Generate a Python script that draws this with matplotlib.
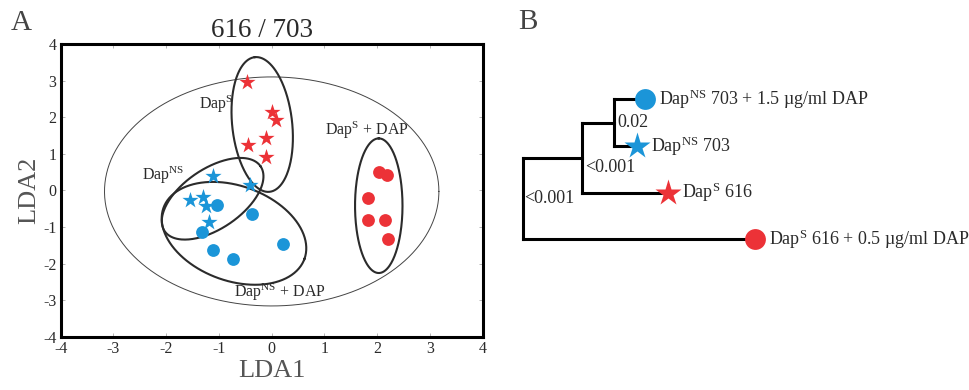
import numpy as np
import matplotlib.pyplot as plt

plt.rcParams['font.family'] = ['Liberation Serif', 'DejaVu Serif']
plt.rcParams['mathtext.fontset'] = 'custom'
plt.rcParams['mathtext.rm'] = 'Liberation Serif'
plt.rcParams['mathtext.it'] = 'Liberation Serif:italic'
plt.rcParams['axes.unicode_minus'] = False

red = '#EC3237'
blue = '#1B95D8'
txt = '#2a2a2a'

# LDA scores
s_star_x = [-0.47, 0.00, 0.08, -0.11, -0.44, -0.11]
s_star_y = [2.95, 2.15, 1.91, 1.43, 1.24, 0.92]
ns_star_x = [-1.11, -0.42, -1.54, -1.30, -1.25, -1.19]
ns_star_y = [0.40, 0.15, -0.26, -0.17, -0.44, -0.87]
ns_dap_x = [-1.03, -0.38, -1.32, -1.11, -0.73, 0.22]
ns_dap_y = [-0.41, -0.65, -1.15, -1.63, -1.88, -1.47]
s_dap_x = [2.04, 2.19, 1.83, 1.83, 2.15, 2.20]
s_dap_y = [0.49, 0.41, -0.22, -0.82, -0.81, -1.33]

# confidence ellipses: centre, semi-axis vector 1, semi-axis vector 2 (data units)
ell_all = [(0.0, -0.03), (3.17, 0.0), (0.0, 3.13)]
ell_s = [(-0.18, 1.80), (-0.14, 1.84), (0.565, 0.09)]
ell_ns = [(-1.12, -0.23), (0.91, 0.885), (0.318, -0.68)]
ell_ns_dap = [(-0.715, -1.175), (1.336, -0.70), (0.307, 1.219)]
ell_s_dap = [(2.03, -0.42), (0.0, 1.84), (0.45, 0.0)]

# panel B tree: branch lengths and support values
br_n1 = 5.96
br_n2 = 3.17
br_leaf = [3.10, 2.27, 8.60, 23.23]
support = ['0.02', '<0.001', '<0.001']
leaf_names = [r'Dap$^{\mathrm{NS}}$ 703 + 1.5 µg/ml DAP',
              r'Dap$^{\mathrm{NS}}$ 703',
              r'Dap$^{\mathrm{S}}$ 616',
              r'Dap$^{\mathrm{S}}$ 616 + 0.5 µg/ml DAP']
leaf_marker = ['o', '*', '*', 'o']
leaf_color = [blue, blue, red, red]

fig = plt.figure(figsize=(9.7, 3.9), dpi=100)

# ---- panel A ----
ax = fig.add_axes([0.0626, 0.1367, 0.435, 0.7505])
t = np.linspace(0, 2 * np.pi, 300)


def draw_ellipse(e, lw, color):
    c, u, v = e
    ex = c[0] + u[0] * np.cos(t) + v[0] * np.sin(t)
    ey = c[1] + u[1] * np.cos(t) + v[1] * np.sin(t)
    ax.plot(ex, ey, color=color, lw=lw, zorder=2)


draw_ellipse(ell_all, 0.7, '#444444')
for e in [ell_s, ell_ns, ell_ns_dap, ell_s_dap]:
    draw_ellipse(e, 1.5, '#2b2b2b')

ax.scatter(s_star_x, s_star_y, marker='*', s=150, color=red, lw=0, zorder=3)
ax.scatter(ns_star_x, ns_star_y, marker='*', s=150, color=blue, lw=0, zorder=3)
ax.scatter(ns_dap_x, ns_dap_y, marker='o', s=85, color=blue, lw=0, zorder=3)
ax.scatter(s_dap_x, s_dap_y, marker='o', s=85, color=red, lw=0, zorder=3)

ax.text(-1.05, 2.36, r'Dap$^{\mathrm{S}}$', fontsize=11.5, color=txt, ha='center', va='center')
ax.text(-2.06, 0.42, r'Dap$^{\mathrm{NS}}$', fontsize=11.5, color=txt, ha='center', va='center')
ax.text(0.16, -2.80, r'Dap$^{\mathrm{NS}}$ + DAP', fontsize=11.5, color=txt, ha='center', va='center')
ax.text(1.81, 1.65, r'Dap$^{\mathrm{S}}$ + DAP', fontsize=11.5, color=txt, ha='center', va='center')

ax.set_xlim(-4, 4)
ax.set_ylim(-4, 4)
ax.set_xticks(range(-4, 5))
ax.set_yticks(range(-4, 5))
ax.tick_params(direction='in', length=3, width=0.6, color='#aaaaaa', top=True, right=True,
               labelsize=11.5, labelcolor=txt, pad=3)
for sp in ax.spines.values():
    sp.set_linewidth(2.2)
ax.set_xlabel('LDA1', fontsize=19, color='#555555', labelpad=2)
ax.set_ylabel('LDA2', fontsize=19, color='#555555', labelpad=2)

fig.text(0.2706, 0.922, '616 / 703', fontsize=19.5, color=txt, ha='center', va='center')
fig.text(0.0216, 0.941, 'A', fontsize=21, color='#444444', ha='center', va='center')
fig.text(0.544, 0.944, 'B', fontsize=21, color='#444444', ha='center', va='center')

# ---- panel B ----
tx = fig.add_axes([0.52, 0.282, 0.48, 0.564])
tx.axis('off')
tx.set_xlim(-1.83, 44.73)
tx.set_ylim(3.878, -0.843)

x_root = 0.0
x_n1 = x_root + br_n1
x_n2 = x_n1 + br_n2
leaf_x = [x_n2 + br_leaf[0], x_n2 + br_leaf[1], x_n1 + br_leaf[2], x_root + br_leaf[3]]
leaf_y = [0, 1, 2, 3]
y_n2 = (leaf_y[0] + leaf_y[1]) / 2
y_n1 = (y_n2 + leaf_y[2]) / 2
y_root = (y_n1 + leaf_y[3]) / 2

lk = dict(color='black', lw=2.2, solid_capstyle='projecting', zorder=1)
tx.plot([x_n2, x_n2], [leaf_y[0], leaf_y[1]], **lk)
tx.plot([x_n2, leaf_x[0]], [leaf_y[0], leaf_y[0]], **lk)
tx.plot([x_n2, leaf_x[1]], [leaf_y[1], leaf_y[1]], **lk)
tx.plot([x_n1, x_n1], [y_n2, leaf_y[2]], **lk)
tx.plot([x_n1, x_n2], [y_n2, y_n2], **lk)
tx.plot([x_n1, leaf_x[2]], [leaf_y[2], leaf_y[2]], **lk)
tx.plot([x_root, x_root], [y_n1, leaf_y[3]], **lk)
tx.plot([x_root, x_n1], [y_n1, y_n1], **lk)
tx.plot([x_root, leaf_x[3]], [leaf_y[3], leaf_y[3]], **lk)

for i in range(4):
    ms = 15 if leaf_marker[i] == 'o' else 20
    tx.plot(leaf_x[i], leaf_y[i], marker=leaf_marker[i], ms=ms, color=leaf_color[i],
            mec='none', zorder=3)
    tx.annotate(leaf_names[i], (leaf_x[i], leaf_y[i]), xytext=(10, 0),
                textcoords='offset points', fontsize=13, color=txt, va='center')

tx.text(x_n2 + 0.3, y_n2, support[0], fontsize=13, color=txt, va='center')
tx.text(x_n1 + 0.25, y_n1 + 0.03, support[1], fontsize=13, color=txt, va='top')
tx.text(x_root + 0.15, y_root, support[2], fontsize=13, color=txt, va='center')

fig.savefig('out.png', dpi=100)
